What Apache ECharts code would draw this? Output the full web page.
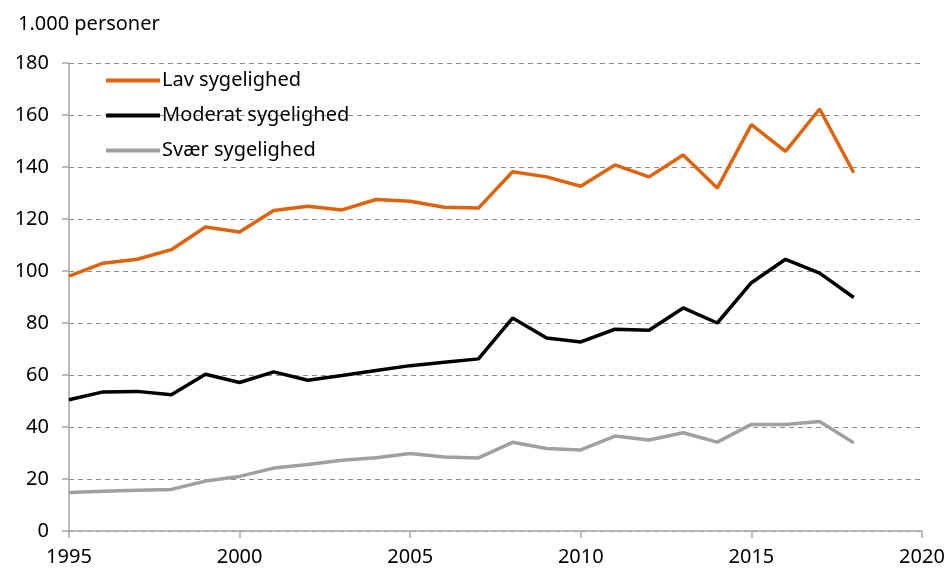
<!DOCTYPE html>
<html>
<head>
<meta charset="utf-8">
<script src="https://cdn.jsdelivr.net/npm/echarts@6/dist/echarts.min.js"></script>
<style>
html, body { margin: 0; padding: 0; background: #fff; }
#chart { width: 950px; height: 572px; }
</style>
</head>
<body>
<div id="chart"></div>
<script>
// år og værdier (1.000 personer)
var years = [1995, 1996, 1997, 1998, 1999, 2000, 2001, 2002, 2003, 2004, 2005, 2006,
	2007, 2008, 2009, 2010, 2011, 2012, 2013, 2014, 2015, 2016, 2017, 2018];
var lav = [98, 103, 104.5, 108.2, 116.9, 115, 123.3, 124.9, 123.5, 127.5, 126.8, 124.5,
	124.2, 138.2, 136.2, 132.6, 140.8, 136.2, 144.6, 131.9, 156.3, 146, 162.3, 137.8];
var moderat = [50.5, 53.5, 53.7, 52.4, 60.3, 57.1, 61.2, 58, 59.8, 61.7, 63.6, 64.9,
	66.2, 81.9, 74.2, 72.7, 77.6, 77.2, 85.8, 80, 95.5, 104.5, 99.2, 89.8];
var svaer = [14.8, 15.3, 15.7, 16, 19.2, 21, 24.2, 25.6, 27.2, 28.2, 29.8, 28.5,
	28.1, 34.1, 31.7, 31.2, 36.5, 35, 37.8, 34.2, 41, 41, 42.1, 33.9];
var seriesNames = ['Lav sygelighed', 'Moderat sygelighed', 'Svær sygelighed'];
var seriesColors = ['#e0620b', '#000000', '#a0a0a0'];

function pairs(vals) {
	var out = [];
	for (var i = 0; i < years.length; i++) {
		out.push([years[i], vals[i]]);
	}
	return out;
}

var font = 'Noto Sans';
var chart = echarts.init(document.getElementById('chart'));
var allData = [lav, moderat, svaer];
var series = [];
for (var i = 0; i < seriesNames.length; i++) {
	series.push({
		name: seriesNames[i],
		type: 'line',
		data: pairs(allData[i]),
		symbol: 'none',
		lineStyle: { width: 3.5, color: seriesColors[i] },
		itemStyle: { color: seriesColors[i] },
		z: 10 - i
	});
}

chart.setOption({
	animation: false,
	title: {
		text: '1.000 personer',
		left: 13,
		top: 9,
		textStyle: { fontFamily: font, fontSize: 20, fontWeight: 'normal', color: '#000' }
	},
	legend: {
		orient: 'vertical',
		left: 101,
		top: 62,
		itemWidth: 54,
		itemHeight: 4,
		itemGap: 8,
		icon: 'rect',
		data: seriesNames,
		textStyle: { fontFamily: font, fontSize: 20, color: '#000', padding: [0, 0, 0, -3], lineHeight: 27 }
	},
	grid: {
		left: 69,
		right: 28,
		top: 63,
		bottom: 41
	},
	xAxis: {
		type: 'value',
		min: 1995,
		max: 2020,
		interval: 5,
		axisLine: { lineStyle: { color: '#a6a6a6', width: 1.5 } },
		axisTick: { show: true, length: 7, lineStyle: { color: '#a6a6a6', width: 1.5 } },
		axisLabel: { fontFamily: font, fontSize: 20, color: '#000', margin: 16, formatter: function (v) { return String(v); } },
		splitLine: { show: false }
	},
	yAxis: {
		type: 'value',
		min: 0,
		max: 180,
		interval: 20,
		axisLine: { show: true, lineStyle: { color: '#a6a6a6', width: 1.5 } },
		axisTick: { show: true, length: 7, lineStyle: { color: '#a6a6a6', width: 1.5 } },
		axisLabel: { fontFamily: font, fontSize: 20, color: '#000', margin: 20 },
		splitLine: { show: true, lineStyle: { color: '#8c8c8c', type: [5, 4], width: 1 } }
	},
	series: series
});
</script>
</body>
</html>
